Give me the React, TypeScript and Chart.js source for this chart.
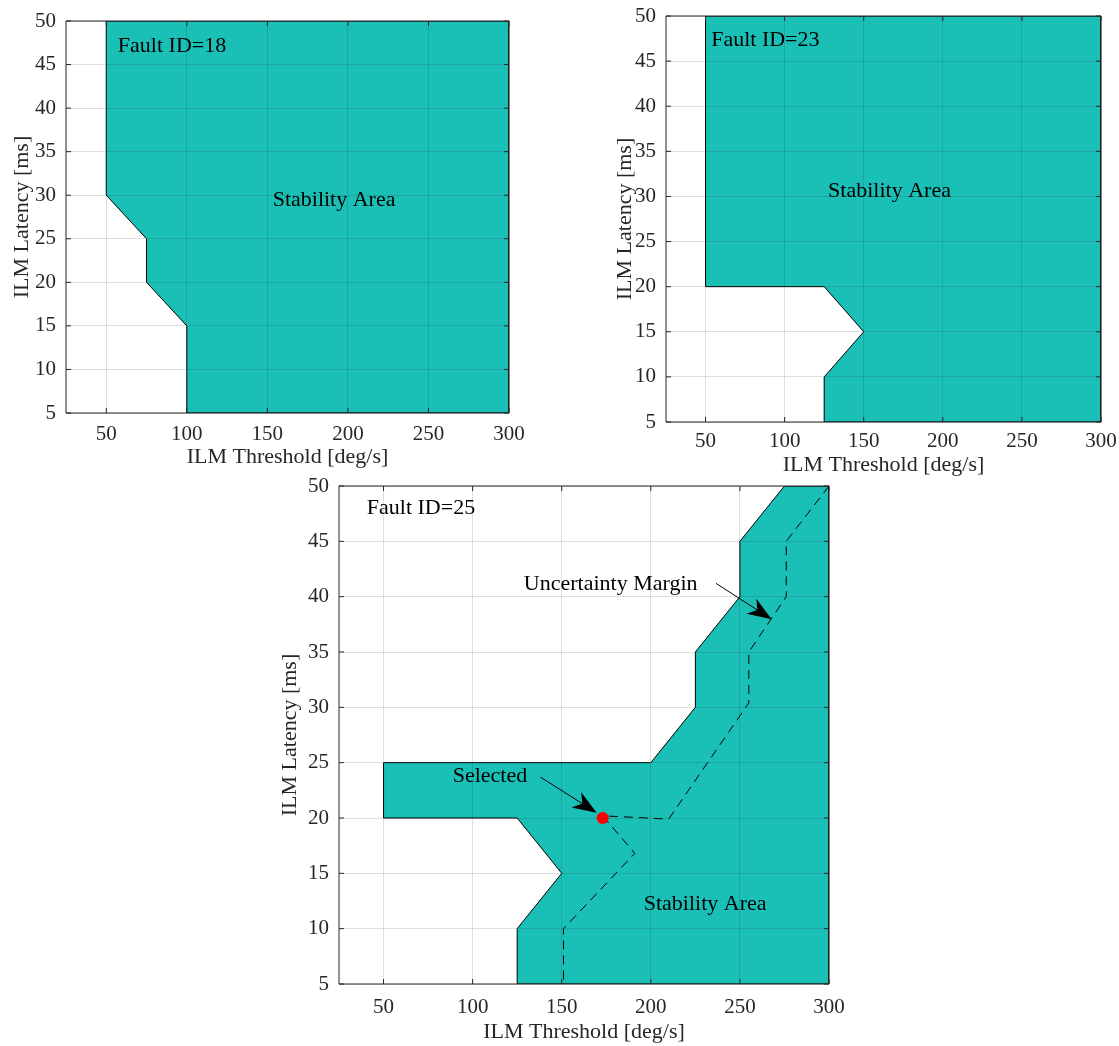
import React, { useEffect, useRef } from "react";
import { Chart, registerables } from "chart.js";

Chart.register(...registerables);

// ---------------- data ----------------
const xTicks = [50, 100, 150, 200, 250, 300];
const yTicks = [5, 10, 15, 20, 25, 30, 35, 40, 45, 50];
const xRange = [25, 300];
const yRange = [5, 50];

const xTitle = "ILM Threshold [deg/s]";
const yTitle = "ILM Latency [ms]";

// Stability area polygons
const fault18X = [50, 300, 300, 100, 100, 75, 75, 50, 50];
const fault18Y = [50, 50, 5, 5, 15, 20, 25, 30, 50];

const fault23X = [50, 300, 300, 125, 125, 150, 125, 50, 50];
const fault23Y = [50, 50, 5, 5, 10, 15, 20, 20, 50];

const fault25X = [275, 300, 300, 125, 125, 150, 125, 50, 50, 200, 225, 225, 250, 250, 275];
const fault25Y = [50, 50, 5, 5, 10, 15, 20, 20, 25, 25, 30, 35, 40, 45, 50];

// Uncertainty margin (dashed) for fault 25
const marginX = [300, 276, 276, 255, 255, 210, 173, 191, 151, 151];
const marginY = [50, 45, 40, 35, 30.4, 19.9, 20.2, 16.8, 10, 5];

// Selected point for fault 25
const selectedX = [173];
const selectedY = [20];

// Text labels (data coordinates, centre)
const faultLabels = ["Fault ID=18", "Fault ID=23", "Fault ID=25"];
const faultLabelX = [90.8, 87.8, 71];
const faultLabelY = [47.1, 47.3, 48.0];
const stabilityLabel = "Stability Area";
const stabilityLabelX = [191.4, 166.3, 230.5];
const stabilityLabelY = [29.45, 30.6, 12.25];

const marginLabel = "Uncertainty Margin";
const marginLabelX = 177.5;
const marginLabelY = 41.1;
const marginArrowX = [236.6, 267.8];
const marginArrowY = [41.2, 37.96];

const selectedLabel = "Selected";
const selectedLabelX = 109.7;
const selectedLabelY = 23.75;
const selectedArrowX = [138.2, 169.6];
const selectedArrowY = [23.68, 20.48];

// ---------------- styling ----------------
const FONT = "'Liberation Serif', 'Times New Roman', serif";
const TEAL = "#1abfb5";
const AXIS = "#262626";
const GRID = "rgba(38,38,38,0.15)";
const Y_AXIS_W = 66;
const X_AXIS_H = 62;
const PAD_TOP = 16;
const PAD_RIGHT = 18;
const TICK_SIZE = 21;
const TITLE_SIZE = 22;

const pts = (xs: number[], ys: number[]) => xs.map((x, i) => ({ x, y: ys[i] }));

type Arrow = { x1: number; y1: number; x2: number; y2: number };
type Txt = { t: string; x: number; y: number };

interface Spec {
  left: number;
  top: number;
  right: number;
  bottom: number;
  yTitleX: number;
  xTitleY: number;
  xTickPad: number;
  polyX: number[];
  polyY: number[];
  texts: Txt[];
  arrows: Arrow[];
  extra: boolean;
}

const specs: Spec[] = [
  {
    left: 66, top: 21, right: 509, bottom: 413, yTitleX: 22, xTitleY: 457, xTickPad: 8.5,
    polyX: fault18X, polyY: fault18Y,
    texts: [
      { t: faultLabels[0], x: faultLabelX[0], y: faultLabelY[0] },
      { t: stabilityLabel, x: stabilityLabelX[0], y: stabilityLabelY[0] },
    ],
    arrows: [], extra: false,
  },
  {
    left: 666, top: 16, right: 1101, bottom: 422, yTitleX: 625, xTitleY: 465, xTickPad: 6.5,
    polyX: fault23X, polyY: fault23Y,
    texts: [
      { t: faultLabels[1], x: faultLabelX[1], y: faultLabelY[1] },
      { t: stabilityLabel, x: stabilityLabelX[1], y: stabilityLabelY[1] },
    ],
    arrows: [], extra: false,
  },
  {
    left: 339, top: 486, right: 829, bottom: 984, yTitleX: 290, xTitleY: 1032, xTickPad: 11,
    polyX: fault25X, polyY: fault25Y,
    texts: [
      { t: faultLabels[2], x: faultLabelX[2], y: faultLabelY[2] },
      { t: stabilityLabel, x: stabilityLabelX[2], y: stabilityLabelY[2] },
      { t: marginLabel, x: marginLabelX, y: marginLabelY },
      { t: selectedLabel, x: selectedLabelX, y: selectedLabelY },
    ],
    arrows: [
      { x1: marginArrowX[0], y1: marginArrowY[0], x2: marginArrowX[1], y2: marginArrowY[1] },
      { x1: selectedArrowX[0], y1: selectedArrowY[0], x2: selectedArrowX[1], y2: selectedArrowY[1] },
    ],
    extra: true,
  },
];

function drawArrow(ctx: CanvasRenderingContext2D, x1: number, y1: number, x2: number, y2: number) {
  const ang = Math.atan2(y2 - y1, x2 - x1);
  const c = Math.cos(ang), s = Math.sin(ang);
  const len = 24, half = 9, notch = 7;
  const nx = x2 - (len - notch) * c, ny = y2 - (len - notch) * s;
  ctx.save();
  ctx.strokeStyle = "#000";
  ctx.fillStyle = "#000";
  ctx.lineWidth = 1;
  ctx.beginPath();
  ctx.moveTo(x1, y1);
  ctx.lineTo(nx, ny);
  ctx.stroke();
  const bx = x2 - len * c, by = y2 - len * s;
  ctx.beginPath();
  ctx.moveTo(x2, y2);
  ctx.lineTo(bx - half * s, by + half * c);
  ctx.lineTo(nx, ny);
  ctx.lineTo(bx + half * s, by - half * c);
  ctx.closePath();
  ctx.fill();
  ctx.restore();
}

function PlotCanvas({ spec }: { spec: Spec }) {
  const ref = useRef<HTMLCanvasElement | null>(null);
  const cLeft = spec.left - Y_AXIS_W;
  const cTop = spec.top - PAD_TOP;
  const cW = spec.right + PAD_RIGHT - cLeft;
  const cH = spec.bottom + X_AXIS_H - cTop;

  useEffect(() => {
    if (!ref.current) return;
    const lh = TITLE_SIZE * 1.2;
    const yTitlePad = spec.yTitleX - cLeft - lh / 2;
    const xTitlePad = spec.bottom + X_AXIS_H - spec.xTitleY - lh / 2;

    const datasets: any[] = [];
    if (spec.extra) {
      datasets.push({
        data: pts(selectedX, selectedY),
        showLine: false,
        pointRadius: 6,
        pointBackgroundColor: "#ff0000",
        pointBorderWidth: 0,
        order: 1,
      });
      datasets.push({
        data: pts(marginX, marginY),
        borderColor: "#000",
        borderWidth: 1,
        borderDash: [9, 6],
        pointRadius: 0,
        fill: false,
        tension: 0,
        order: 2,
      });
    }
    datasets.push({
      data: pts(spec.polyX, spec.polyY),
      borderColor: "#000",
      borderWidth: 1,
      backgroundColor: TEAL,
      fill: "shape",
      pointRadius: 0,
      tension: 0,
      order: 3,
    });

    const decor = {
      id: "matlabDecor",
      afterDraw(chart: any) {
        const { ctx, chartArea: a, scales } = chart;
        const xs = scales.x, ys = scales.y;
        ctx.save();
        ctx.strokeStyle = AXIS;
        ctx.lineWidth = 1;
        ctx.beginPath();
        ctx.rect(a.left, a.top, a.right - a.left, a.bottom - a.top);
        ctx.stroke();
        const tl = 5;
        ctx.beginPath();
        xTicks.forEach((v) => {
          const px = xs.getPixelForValue(v);
          ctx.moveTo(px, a.bottom);
          ctx.lineTo(px, a.bottom - tl);
          ctx.moveTo(px, a.top);
          ctx.lineTo(px, a.top + tl);
        });
        yTicks.forEach((v) => {
          const py = ys.getPixelForValue(v);
          ctx.moveTo(a.left, py);
          ctx.lineTo(a.left + tl, py);
          ctx.moveTo(a.right, py);
          ctx.lineTo(a.right - tl, py);
        });
        ctx.stroke();
        ctx.fillStyle = "#000";
        ctx.font = `22px ${FONT}`;
        ctx.textAlign = "center";
        ctx.textBaseline = "middle";
        spec.texts.forEach((t) => {
          ctx.fillText(t.t, xs.getPixelForValue(t.x), ys.getPixelForValue(t.y));
        });
        spec.arrows.forEach((ar) => {
          drawArrow(
            ctx,
            xs.getPixelForValue(ar.x1), ys.getPixelForValue(ar.y1),
            xs.getPixelForValue(ar.x2), ys.getPixelForValue(ar.y2)
          );
        });
        ctx.restore();
      },
    };

    const chart = new Chart(ref.current, {
      type: "line",
      data: { datasets },
      options: {
        animation: false,
        responsive: false,
        maintainAspectRatio: false,
        devicePixelRatio: 1,
        layout: { padding: { left: 0, top: PAD_TOP, right: PAD_RIGHT, bottom: 0 } },
        plugins: { legend: { display: false }, tooltip: { enabled: false } },
        events: [],
        scales: {
          x: {
            type: "linear",
            position: "bottom",
            min: xRange[0],
            max: xRange[1],
            border: { display: false },
            grid: { color: GRID, lineWidth: 1, drawTicks: false, z: 1 },
            ticks: {
              font: { family: FONT, size: TICK_SIZE },
              color: AXIS,
              padding: spec.xTickPad,
              maxRotation: 0,
              autoSkip: false,
              callback: (v: any) => String(v),
            },
            title: {
              display: true,
              text: xTitle,
              color: AXIS,
              font: { family: FONT, size: TITLE_SIZE },
              padding: { top: 0, bottom: xTitlePad },
            },
            afterBuildTicks: (s: any) => {
              s.ticks = xTicks.map((v) => ({ value: v }));
            },
            afterFit: (s: any) => {
              s.height = X_AXIS_H;
              s.paddingLeft = 0;
              s.paddingRight = 0;
            },
          },
          y: {
            type: "linear",
            position: "left",
            min: yRange[0],
            max: yRange[1],
            border: { display: false },
            grid: { color: GRID, lineWidth: 1, drawTicks: false, z: 1 },
            ticks: {
              font: { family: FONT, size: TICK_SIZE },
              color: AXIS,
              padding: 10,
              autoSkip: false,
              callback: (v: any) => String(v),
            },
            title: {
              display: true,
              text: yTitle,
              color: AXIS,
              font: { family: FONT, size: TITLE_SIZE },
              padding: { top: yTitlePad, bottom: 0 },
            },
            afterBuildTicks: (s: any) => {
              s.ticks = yTicks.map((v) => ({ value: v }));
            },
            afterFit: (s: any) => {
              s.width = Y_AXIS_W;
              s.paddingTop = 0;
              s.paddingBottom = 0;
            },
          },
        },
      } as any,
      plugins: [decor],
    });
    return () => chart.destroy();
  }, []);

  return (
    <canvas
      ref={ref}
      width={cW}
      height={cH}
      style={{ position: "absolute", left: cLeft, top: cTop, width: cW, height: cH, display: "block" }}
    />
  );
}

export default function App() {
  return (
    <div style={{ position: "absolute", left: 0, top: 0, width: 1119, height: 1046, background: "#fff" }}>
      {specs.map((s, i) => (
        <PlotCanvas key={i} spec={s} />
      ))}
    </div>
  );
}
